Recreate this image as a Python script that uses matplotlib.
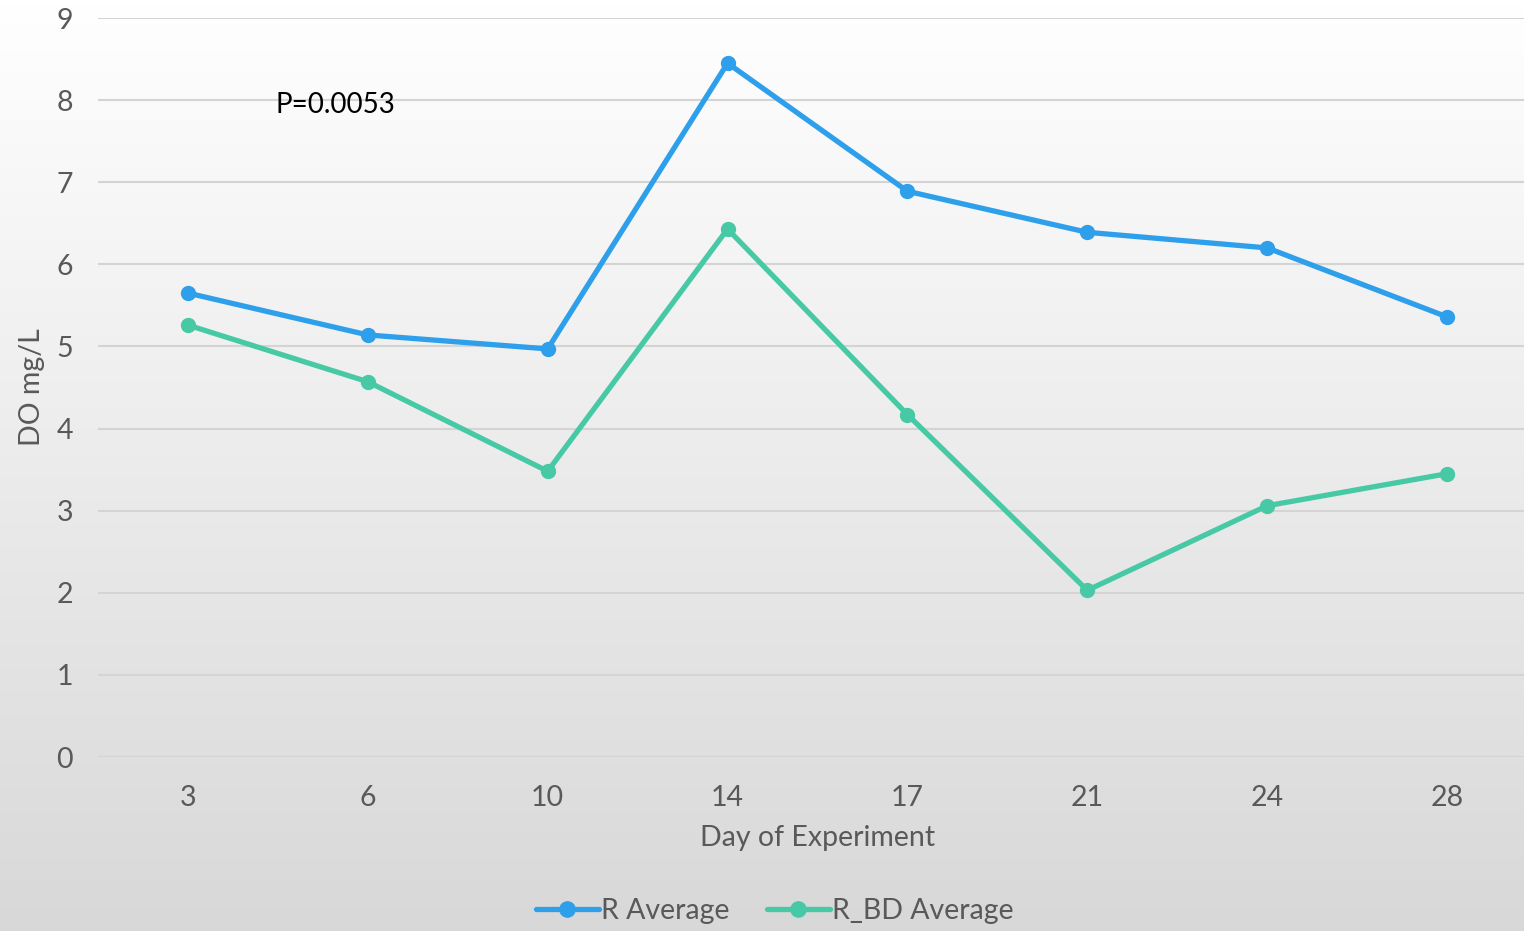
import numpy as np
import matplotlib.pyplot as plt
from matplotlib.colors import LinearSegmentedColormap

days = ["3", "6", "10", "14", "17", "21", "24", "28"]
r_avg = [5.65, 5.14, 4.97, 8.45, 6.89, 6.39, 6.20, 5.36]
r_bd_avg = [5.26, 4.57, 3.48, 6.43, 4.17, 2.03, 3.06, 3.45]
labels = ["R Average", "R_BD Average"]
colors = ["#2E9FEA", "#48C9A6"]

plt.rcParams["font.family"] = ["Lato", "DejaVu Sans"]
text_color = "#595959"
fs = 20.5

fig = plt.figure(figsize=(15.24, 9.31), dpi=100)

# gradient background, white at top to light grey at bottom
bg = fig.add_axes([0, 0, 1, 1], zorder=-10)
grad = np.linspace(0, 1, 256).reshape(-1, 1)
bg.imshow(grad, aspect="auto", cmap=LinearSegmentedColormap.from_list("bg", ["#FFFFFF", "#D8D8D8"]),
          extent=[0, 1, 0, 1], origin="upper")
bg.axis("off")

ax = fig.add_axes([98 / 1524, 1 - 757 / 931, (1537 - 98) / 1524, (757 - 18) / 931])
ax.patch.set_alpha(0)

x = np.arange(len(days))
for series, label, color in zip([r_avg, r_bd_avg], labels, colors):
    ax.plot(x, series, color=color, lw=3.8, marker="o", ms=10, label=label,
            solid_capstyle="round", zorder=3)

ax.set_xlim(-0.5, len(days) - 0.5)
ax.set_ylim(0, 9)
ax.set_yticks(range(0, 10))
ax.set_xticks(x)
ax.set_xticklabels(days)
ax.grid(axis="y", color="#D4D4D4", lw=1.5)
ax.set_axisbelow(True)
for s in ax.spines.values():
    s.set_visible(False)
ax.tick_params(length=0, labelsize=fs, colors=text_color)
ax.tick_params(axis="x", pad=20)
ax.tick_params(axis="y", pad=18)

ax.set_xlabel("Day of Experiment", fontsize=fs, color=text_color, labelpad=10)
ax.set_ylabel("DO mg/L", fontsize=fs, color=text_color, labelpad=8)

fig.text(275 / 1524, 1 - 105 / 931, "P=0.0053", fontsize=20, color="black",
         va="center", ha="left")

fig.legend(loc="center", bbox_to_anchor=(775 / 1524, 1 - 911 / 931), ncol=2,
           frameon=False, fontsize=fs, labelcolor=text_color, handlelength=2.2,
           handletextpad=0.1, columnspacing=1.3, markerscale=1.1)

fig.savefig("out.png", dpi=100)
